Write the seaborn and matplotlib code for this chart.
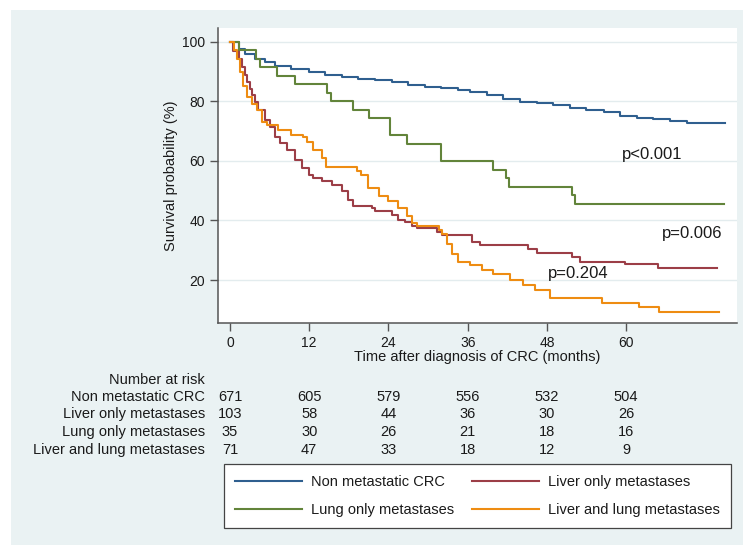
import numpy as np
import pandas as pd
import matplotlib
matplotlib.use("Agg")
import matplotlib.pyplot as plt
import matplotlib.transforms as mtransforms
from matplotlib.patches import Rectangle
from matplotlib.lines import Line2D
import seaborn as sns

# ---------------- data ----------------
group_names = ["Non metastatic CRC", "Liver only metastases",
               "Lung only metastases", "Liver and lung metastases"]

nonmet_t = [0, 1.3, 2.3, 3.8, 5.3, 6.8, 9.3, 11.9, 14.4, 16.9, 19.4, 22.0, 24.5, 27.0,
            29.5, 32.0, 34.6, 36.4, 38.9, 41.4, 43.9, 46.5, 49.0, 51.5, 54.0, 56.6,
            59.1, 61.6, 64.1, 66.7, 69.2, 75.0]
nonmet_s = [100, 97.6, 95.9, 94.2, 93.1, 92.0, 90.9, 90.0, 88.9, 88.1, 87.6, 87.0, 86.4, 85.6,
            84.9, 84.4, 83.7, 83.2, 82.1, 80.8, 79.9, 79.3, 78.8, 77.6, 77.1, 76.5,
            75.2, 74.5, 74.1, 73.4, 72.8, 72.6]

liver_t = [0, 0.5, 1.3, 1.77, 2.27, 2.6, 3.0, 3.4, 3.8, 4.3, 5.3, 6.06, 6.8, 7.6, 8.6, 9.85,
           10.9, 11.9, 12.6, 13.9, 15.4, 16.9, 17.9, 18.7, 21.5, 22.0, 24.5, 25.5, 26.5,
           27.5, 28.3, 31.3, 32.1, 36.6, 37.9, 45.2, 46.5, 51.8, 53.0, 59.85, 64.9, 73.7]
liver_s = [100, 97.0, 94.2, 91.4, 88.7, 86.5, 84.2, 82.0, 79.8, 77.0, 73.7, 71.4, 68.1, 65.9,
           63.7, 60.3, 57.6, 55.3, 54.2, 53.1, 52.0, 49.8, 47.0, 44.8, 44.2, 43.1, 42.0, 40.3,
           39.4, 38.3, 37.4, 36.1, 35.0, 32.8, 31.9, 30.6, 29.1, 27.8, 26.1, 25.3, 23.9, 23.9]

lung_t = [0, 1.3, 4.0, 4.6, 7.1, 9.85, 14.65, 15.3, 18.7, 21.0, 24.3, 26.8, 32.0, 39.9,
          41.8, 42.2, 51.8, 52.3, 74.8]
lung_s = [100, 97.1, 94.3, 91.4, 88.6, 85.7, 82.9, 80.0, 77.1, 74.3, 68.6, 65.7, 60.0, 57.1,
          54.3, 51.4, 48.6, 45.7, 45.7]

both_t = [0, 0.6, 1.0, 1.5, 2.0, 2.5, 3.3, 4.04, 4.8, 5.56, 7.3, 9.3, 11.1, 11.6, 12.6, 13.9,
          14.6, 19.2, 19.9, 20.96, 22.5, 24.0, 25.5, 26.8, 27.5, 28.3, 31.6, 32.1, 32.8, 33.6,
          34.6, 36.4, 38.1, 39.9, 42.4, 44.4, 46.2, 48.5, 56.3, 61.9, 65.0, 74.0]
both_s = [100, 97.2, 94.2, 89.8, 85.3, 81.4, 79.2, 77.0, 73.1, 72.0, 70.3, 68.7, 68.1, 66.4,
          63.7, 60.9, 58.1, 56.6, 55.3, 50.9, 48.1, 46.4, 44.2, 41.4, 39.2, 38.1, 36.9, 35.6,
          32.2, 28.9, 26.1, 25.0, 23.3, 22.2, 20.0, 18.3, 16.7, 13.9, 12.2, 10.9, 9.4, 9.4]

risk_times = [0, 12, 24, 36, 48, 60]
risk_nonmet = [671, 605, 579, 556, 532, 504]
risk_liver = [103, 58, 44, 36, 30, 26]
risk_lung = [35, 30, 26, 21, 18, 16]
risk_both = [71, 47, 33, 18, 12, 9]

p_labels = ["p<0.001", "p=0.006", "p=0.204"]

x_ticks = [0, 12, 24, 36, 48, 60]
y_ticks = [20, 40, 60, 80, 100]

colors = {"Non metastatic CRC": "#2F5F8F",
          "Liver only metastases": "#9C3E47",
          "Lung only metastases": "#62843A",
          "Liver and lung metastases": "#EE8C12"}

# ---------------- build frame ----------------
frames = []
for name, t, s in [(group_names[0], nonmet_t, nonmet_s),
                   (group_names[1], liver_t, liver_s),
                   (group_names[2], lung_t, lung_s),
                   (group_names[3], both_t, both_s)]:
    frames.append(pd.DataFrame({"time": t, "surv": s, "group": name}))
df = pd.concat(frames, ignore_index=True)

plt.rcParams['font.family'] = ['Liberation Sans', 'DejaVu Sans']
text_color = "#1a1a1a"

W, H = 743, 545
fig = plt.figure(figsize=(W / 100, H / 100), dpi=100)
fig.patch.set_facecolor("white")
fig.add_artist(Rectangle((11 / W, 0), 1 - 11 / W, 1 - 10 / H, transform=fig.transFigure,
                         facecolor="#EAF2F3", edgecolor="none", zorder=-10))

ax = fig.add_axes([218 / W, 1 - 323 / H, 519 / W, 295 / H])
ax.set_facecolor("white")

sns.lineplot(data=df, x="time", y="surv", hue="group", hue_order=group_names,
             palette=colors, estimator=None, sort=False, drawstyle="steps-post",
             linewidth=1.5, legend=False, ax=ax)

ax.set_xlim(-1.82, 76.8)
ax.set_ylim(5.6, 104.6)
ax.set_xticks(x_ticks)
ax.set_yticks(y_ticks)
ax.set_xticklabels([str(v) for v in x_ticks])
ax.set_yticklabels([str(v) for v in y_ticks])
for sp in ["top", "right"]:
    ax.spines[sp].set_visible(False)
for sp in ["left", "bottom"]:
    ax.spines[sp].set_color("#555555")
    ax.spines[sp].set_linewidth(1.1)
ax.tick_params(direction="out", length=5.8, width=1, color="#555555",
               labelsize=10, labelcolor=text_color, pad=3.6)
ax.yaxis.grid(True, color="#E3ECEE", linewidth=1)
ax.xaxis.grid(False)
ax.set_axisbelow(True)

ax.set_xlabel("Time after diagnosis of CRC (months)", fontsize=10.5, color=text_color)
ax.xaxis.set_label_coords(0.5, (323 - 350) / 295)
ax.set_ylabel("Survival probability (%)", fontsize=10.5, color=text_color)
ax.yaxis.set_label_coords((178 - 218) / 519, 0.5)

# p-values
ax.text(59.3, 60.7, p_labels[0], fontsize=12, ha="left", va="baseline", color=text_color)
ax.text(65.4, 34.0, p_labels[1], fontsize=12, ha="left", va="baseline", color=text_color)
ax.text(48.2, 20.6, p_labels[2], fontsize=12, ha="left", va="baseline", color=text_color)

# number at risk table
trans = mtransforms.blended_transform_factory(ax.transData, fig.transFigure)
fig.text(205 / W, 1 - 380 / H, "Number at risk", ha="right", va="center",
         fontsize=10.5, color=text_color)
row_y = [397, 414, 432, 450]
for yy, name, vals in zip(row_y, group_names,
                          [risk_nonmet, risk_liver, risk_lung, risk_both]):
    fig.text(205 / W, 1 - yy / H, name, ha="right", va="center", fontsize=10.5,
             color=text_color)
    for t, v in zip(risk_times, vals):
        ax.text(t, 1 - yy / H, str(v), transform=trans, ha="center", va="center",
                fontsize=10.5, color=text_color, clip_on=False)

# legend
order = [group_names[0], group_names[2], group_names[1], group_names[3]]
handles = [Line2D([], [], color=colors[n], linewidth=1.5) for n in order]
leg = fig.legend(handles, order, loc="upper left",
                 bbox_to_anchor=(224 / W, 1 - 527 / H, 507 / W, 63 / H),
                 mode="expand", ncol=2, frameon=True, fancybox=False,
                 edgecolor="#444444", facecolor="white", framealpha=1,
                 handlelength=4.6, handletextpad=0.6, borderpad=0.75,
                 labelspacing=0.95, fontsize=10.5, borderaxespad=0)
leg.get_frame().set_linewidth(0.9)
for t in leg.get_texts():
    t.set_color(text_color)

fig.savefig("out.png", dpi=100, facecolor=fig.get_facecolor())
